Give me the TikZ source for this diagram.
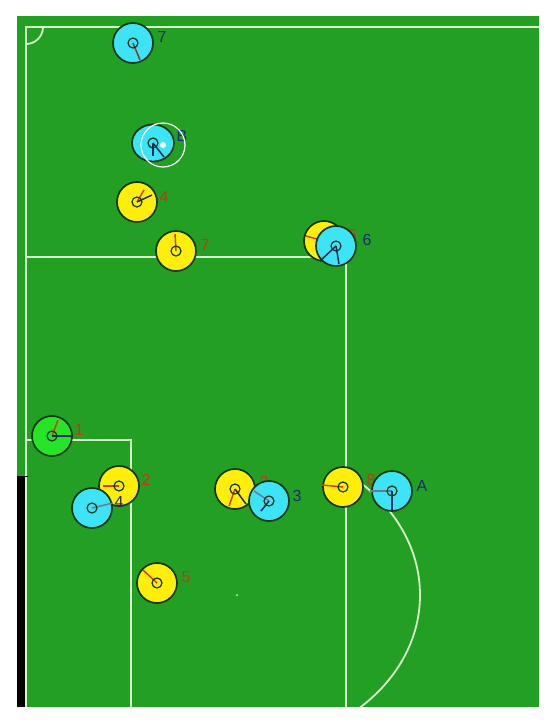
\documentclass[tikz,border=0pt]{standalone}
\usepackage{fontspec}
\setmainfont{Liberation Sans}
\usetikzlibrary{shapes.geometric}
\definecolor{field}{RGB}{35,160,35}
\definecolor{fline}{RGB}{215,245,205}
\definecolor{pcya}{RGB}{60,228,245}
\definecolor{pyel}{RGB}{255,238,10}
\definecolor{pgrn}{RGB}{40,228,40}
\definecolor{pout}{RGB}{20,55,25}
\definecolor{labr}{RGB}{195,55,20}
\definecolor{labb}{RGB}{25,45,110}
\definecolor{dirr}{RGB}{205,65,20}
\definecolor{dirb}{RGB}{35,40,95}
\definecolor{dirg}{RGB}{110,120,150}
\begin{document}
\begin{tikzpicture}[x=1pt,y=-1pt,
  pl/.style={circle, draw=pout, line width=1.7pt, minimum size=40pt, inner sep=0pt},
  yel/.style={pl, fill=pyel},
  cya/.style={pl, fill=pcya},
  gk/.style={pl, fill=pgrn},
  eye/.style={draw=pout, line width=1.2pt},
  ylab/.style={text=labr, font=\fontsize{16}{16}\selectfont, inner sep=0pt},
  clab/.style={text=labb, font=\fontsize{16}{16}\selectfont, inner sep=0pt},
  rdir/.style={draw=dirr, line width=1.5pt},
  bdir/.style={draw=dirb, line width=1.5pt},
  gdir/.style={draw=dirg, line width=1.5pt},
  wline/.style={draw=fline, line width=1.8pt}]
\useasboundingbox (0,0) rectangle (551,726);
% field
\fill[field] (17,16) rectangle (539,707);
\coordinate (tl) at (26,27);
\coordinate (tr) at (539,27);
\coordinate (bl) at (26,707);
\draw[wline] (bl) -- (tl) -- (tr);
\draw[wline] (26,44) arc[start angle=-90, end angle=0, radius=17pt];
\draw[wline] (26,257) -- (346,257) -- (346,707);
\draw[wline] (26,440) -- (131,440) -- (131,707);
\begin{scope}
  \clip (347,16) rectangle (539,707);
  \draw[wline] (237,595) ellipse[x radius=183pt, y radius=152pt];
\end{scope}
\fill[fline] (237,595) circle (1pt);
\fill[black] (17,476) rectangle (25,707);
\draw[black, line width=1pt] (17,476) -- (28,476);

% yellow team + goalkeeper
\node[gk] (g1) at (52,436) {};
\draw[rdir] (g1.center) -- ++(6,-16);
\draw[bdir] (g1.center) -- ++(20,0);
\draw[eye] (g1.center) circle (5pt);
\node[ylab] (g1l) at (79,430) {1};

\node[yel] (y4) at (137,202) {};
\draw[rdir] (y4.center) -- ++(7,-12);
\draw[bdir] (y4.center) -- ++(15,-7);
\draw[eye] (y4.center) circle (5pt);
\node[ylab] (y4l) at (164,197) {4};

\node[yel] (y7) at (176,251) {};
\draw[rdir] (y7.center) -- ++(-1,-17);
\draw[eye] (y7.center) circle (5pt);
\node[ylab] (y7l) at (205,245) {7};

\node[yel] (y6) at (324,241) {};
\draw[rdir] (y6.center) -- ++(-18,-5);
\draw[eye] (y6.center) circle (5pt);
\node[ylab] (y6l) at (352,235) {6};

\node[yel] (y2) at (119,486) {};
\draw[rdir] (y2.center) -- ++(-16,0);
\draw[eye] (y2.center) circle (5pt);
\node[ylab] (y2l) at (146,480) {2};

\node[yel] (y3) at (235,489) {};
\draw[rdir] (y3.center) -- ++(-6,17);
\draw[bdir] (y3.center) -- ++(11,15);
\draw[eye] (y3.center) circle (5pt);
\node[ylab] (y3l) at (264,482) {3};

\node[yel] (y8) at (343,487) {};
\draw[rdir] (y8.center) -- ++(-21,-2);
\draw[eye] (y8.center) circle (5pt);
\node[ylab] (y8l) at (371,480) {8};

\node[yel] (y5) at (157,583) {};
\draw[rdir] (y5.center) -- ++(-14,-13);
\draw[eye] (y5.center) circle (5pt);
\node[ylab] (y5l) at (186,577) {5};

% cyan team
\node[cya] (c7) at (133,43) {};
\draw[draw=dirr!60!dirb, line width=1.5pt] (c7.center) -- ++(7,17);
\draw[eye] (c7.center) circle (5pt);
\node[clab] (c7l) at (162,37) {7};

\node[cya, ellipse, minimum width=42pt, minimum height=37pt] (cB) at (153,143) {};
\draw[bdir] (cB.center) -- ++(0,13);
\draw[bdir] (cB.center) -- ++(11,14);
\draw[eye] (cB.center) circle (5pt);
\node[clab] (cBl) at (182,136) {B};
\draw[white, line width=1.2pt] (163,145) circle (22pt);
\fill[white] (163,145) circle (3pt);

\node[cya] (c6) at (336,246) {};
\draw[bdir] (c6.center) -- ++(-16,15);
\draw[bdir] (c6.center) -- ++(3,18);
\draw[eye] (c6.center) circle (5pt);
\node[clab] (c6l) at (367,240) {6};

\node[cya] (c4) at (92,508) {};
\draw[gdir] (c4.center) -- ++(21,-5);
\draw[eye] (c4.center) circle (5pt);
\node[clab] (c4l) at (119,502) {4};

\node[cya] (c3) at (269,501) {};
\draw[gdir] (c3.center) -- ++(-15,-10);
\draw[bdir] (c3.center) -- ++(-8,10);
\draw[eye] (c3.center) circle (5pt);
\node[clab] (c3l) at (297,496) {3};

\node[cya] (cA) at (392,491) {};
\draw[gdir] (cA.center) -- ++(-22,0);
\draw[bdir] (cA.center) -- ++(0,20);
\draw[eye] (cA.center) circle (5pt);
\node[clab] (cAl) at (422,486) {A};
\end{tikzpicture}
\end{document}
